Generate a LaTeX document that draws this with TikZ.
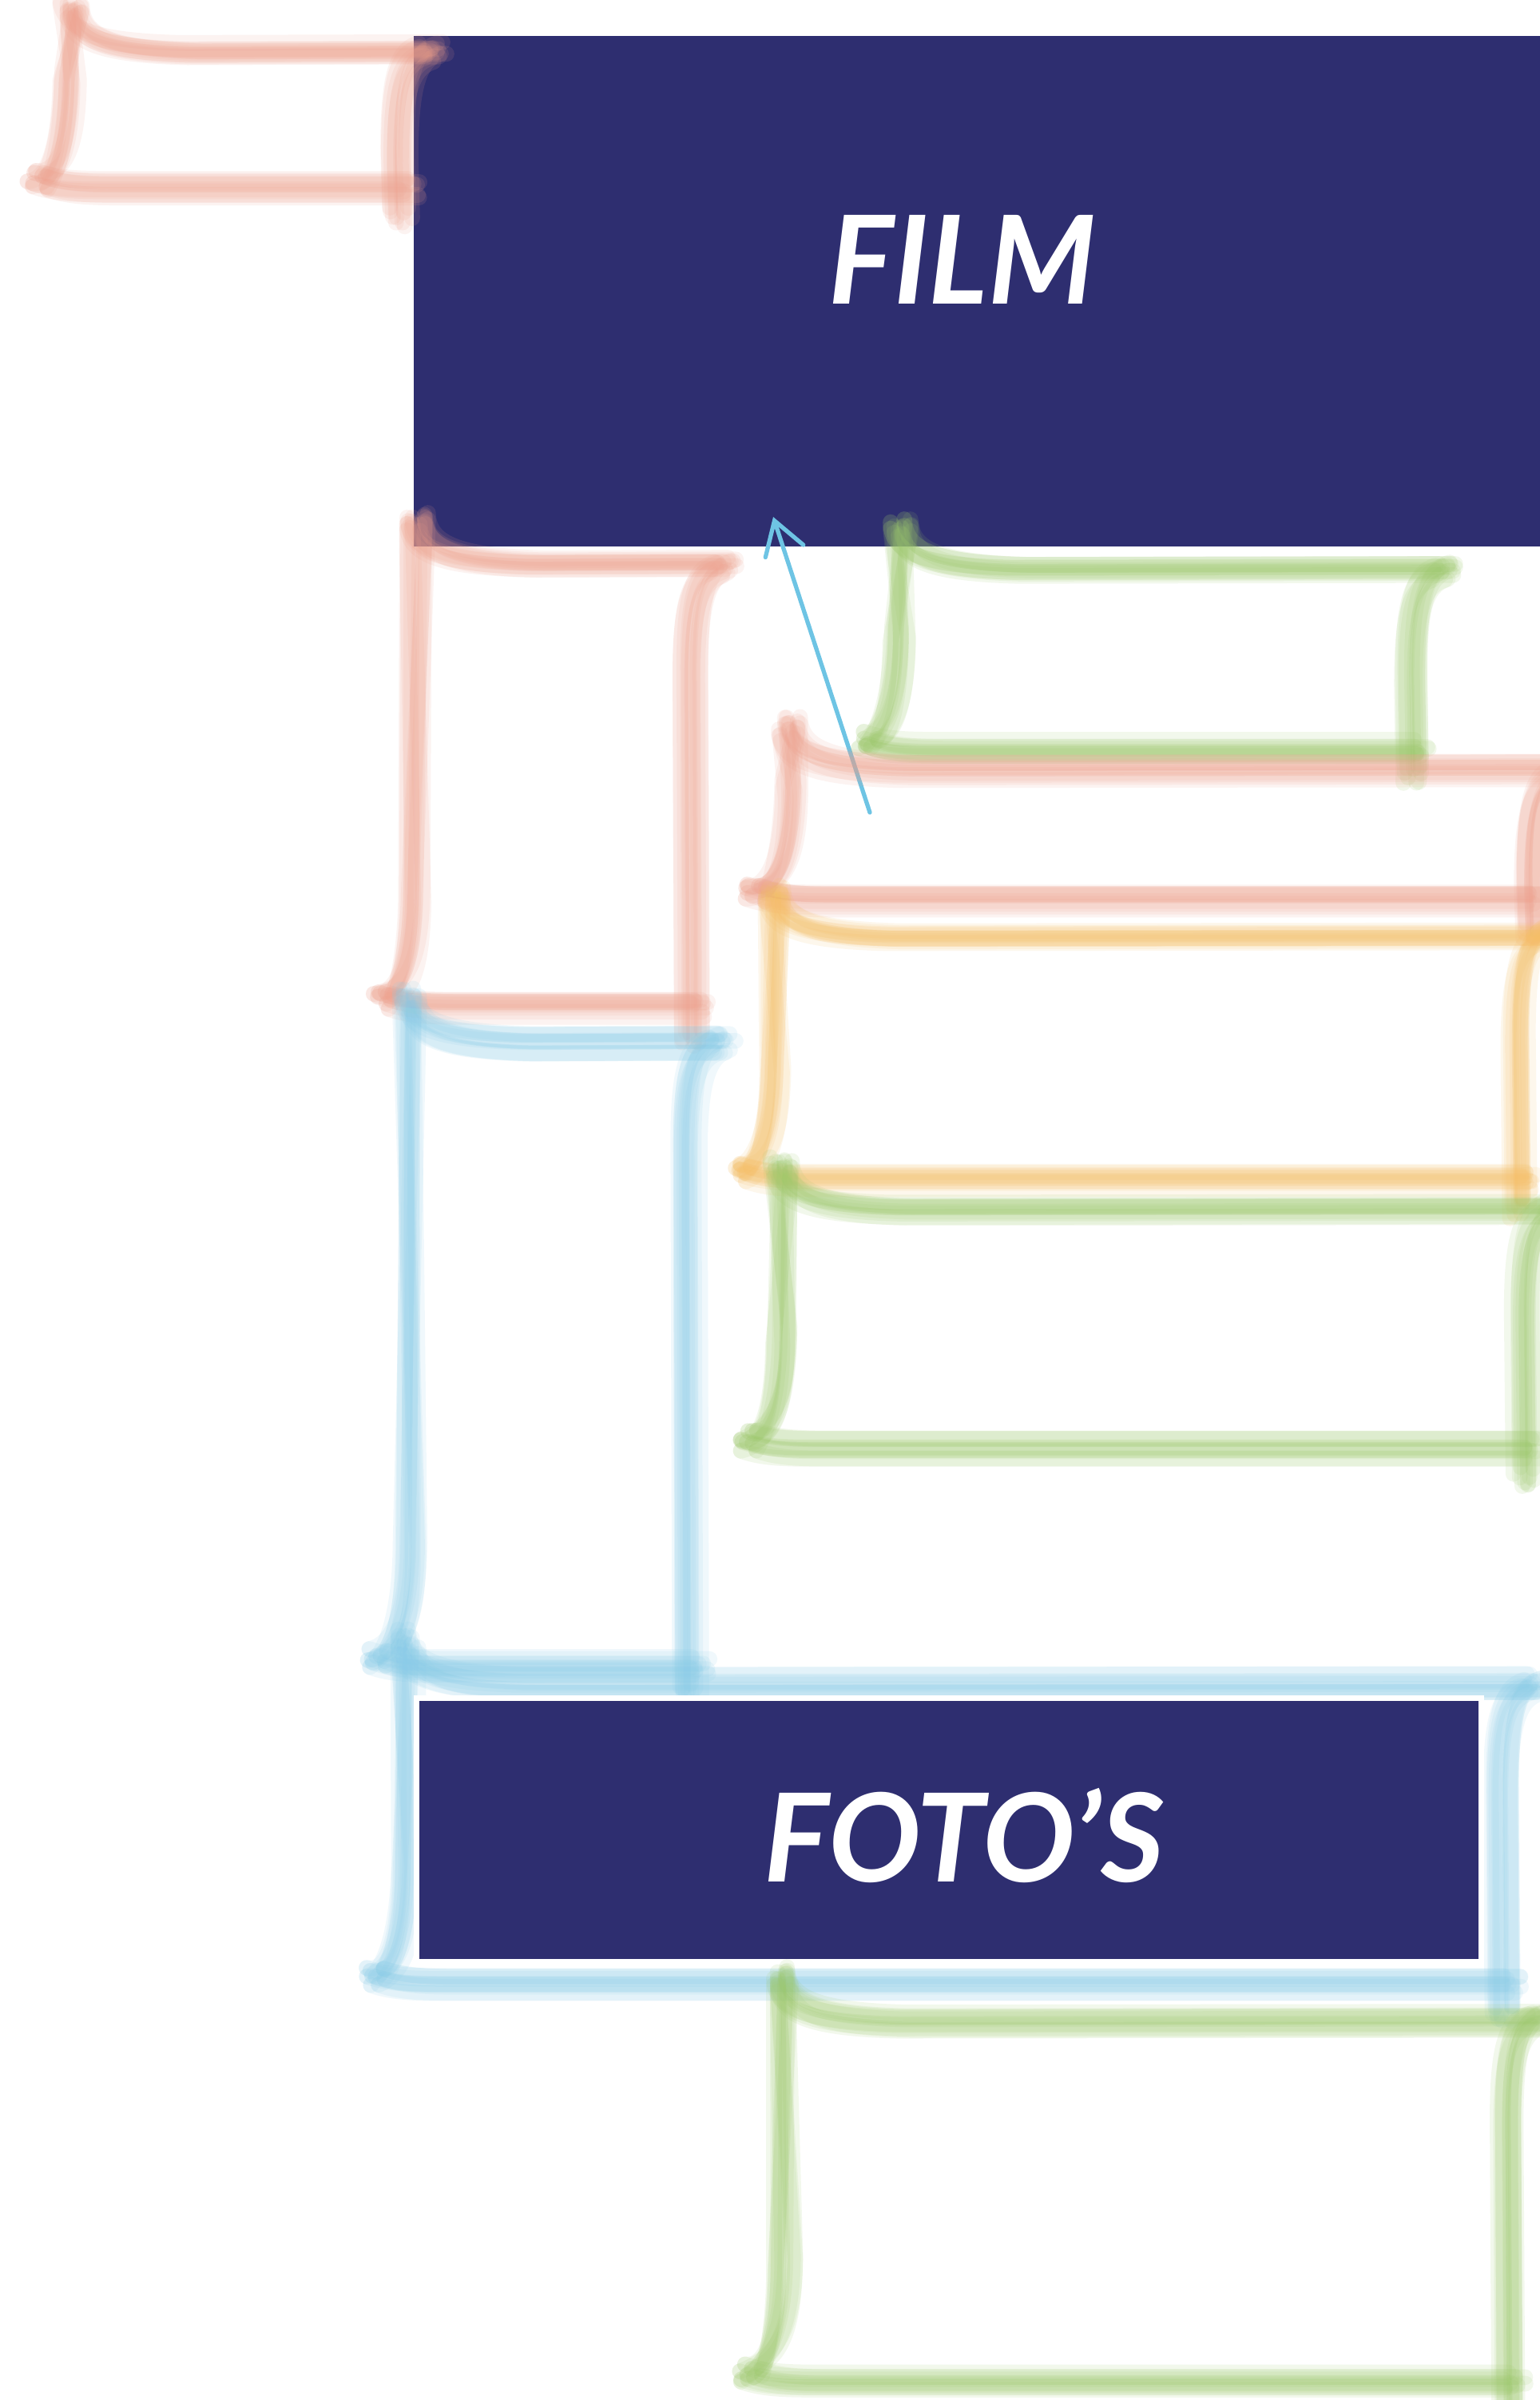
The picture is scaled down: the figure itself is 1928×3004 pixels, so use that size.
\documentclass[tikz,border=0pt]{standalone}
\usepackage{fontspec}
\newfontfamily\lblfont{Lato}
\usetikzlibrary{arrows.meta}
\definecolor{navy}{RGB}{46,46,112}
\definecolor{salmon}{RGB}{238,160,140}
\definecolor{leaf}{RGB}{156,200,106}
\definecolor{sky}{RGB}{136,204,232}
\definecolor{amber}{RGB}{245,190,100}
\definecolor{arrowblue}{RGB}{110,196,228}
\tikzset{
  sk/.style={draw=#1, draw opacity=0.12, line width=5.6pt, line cap=round, line join=round},
  navyrect/.style={fill=navy, draw=none, inner sep=0pt},
  bigword/.style={text=white, inner sep=0pt, font=\lblfont\bfseries\itshape\fontsize{43.7}{50}\selectfont},
  pointer/.style={draw=arrowblue, line width=1.5pt, line cap=round,
    -{Straight Barb[length=11.4pt,width=14.2pt,line cap=round]}}
}
% #1 name, #2 colour, #3 left, #4 top, #5 right, #6 bottom (pixel units, y down)
\newcommand\sketchrect[6]{%
  \coordinate (#1) at ({(#3+#5)/2},{(#4+#6)/2});
  \foreach \k in {1,...,10}{%
    \pgfmathsetmacro\ax{rand*14}\pgfmathsetmacro\ay{rand*13}%
    \pgfmathsetmacro\bx{rand*14}\pgfmathsetmacro\by{rand*13}%
    \pgfmathsetmacro\cx{rand*14}\pgfmathsetmacro\cy{rand*13}%
    \pgfmathsetmacro\ex{rand*14}\pgfmathsetmacro\ey{rand*13}%
    \draw[sk=#2] ({#3+\ax},{#4-50+\ay}) .. controls ({#3+\ax+1},{#4+\ay-15}) and ({#3+\ax+30},{#4+\ay+4}) .. ({#3+\ax+150},{#4+\ay+7}) -- ({#5+45+\bx},{#4+\ay+6});
    \draw[sk=#2] ({#5+38+\bx},{#4+8+\by}) .. controls ({#5+10+\bx},{#4+16+\by}) and ({#5+\bx},{#4+50+\by}) .. ({#5+\bx},{#4+140+\by}) -- ({#5+\bx+2},{#6+38+\by});
    \draw[sk=#2] ({#3-42+\cx},{#6-8+\cy}) .. controls ({#3-25+\cx},{#6-2+\cy}) and ({#3-5+\cx},{#6+2+\cy}) .. ({#3+40+\cx},{#6+2+\cy}) -- ({#5+12+\cx},{#6+2+\cy});
    \draw[sk=#2] ({#3+\ax},{#4-42+\ay}) -- ({#3+\ex},{#6-140+\ey}) .. controls ({#3+\ex-1},{#6-60+\ey}) and ({#3+\ex-15},{#6-15+\ey}) .. ({#3-42+\cx},{#6-8+\cy});
  }%
}
\begin{document}
\begin{tikzpicture}[x=0.01cm,y=-0.01cm]
\pgfmathsetseed{12345}
\useasboundingbox (0,0) rectangle (1928,3004);
\fill[white] (0,0) rectangle (1928,3004);

% FILM block
\node[navyrect, minimum width=14.10cm, minimum height=6.39cm] (film) at (1223,364.5) {};
\node[bigword] (filmword) at (1205,325) {FILM};

% arrow
\coordinate (arrtail) at (1089,1017);
\coordinate (arrtip) at (968,647);
\draw[pointer] (arrtail) -- (arrtip);

% sketched boxes
\sketchrect{bxA}{salmon}{89}{57}{500}{233}
\sketchrect{bxB}{salmon}{522}{703}{863}{1261}
\sketchrect{bxC}{leaf}{1128}{708}{1763}{932}
\sketchrect{bxD}{salmon}{989}{960}{1913}{1127}
\sketchrect{bxE}{amber}{971}{1161}{1900}{1474}
\sketchrect{bxF}{leaf}{978}{1506}{1905}{1811}
\sketchrect{bxG}{sky}{513}{1299}{863}{2082}
\sketchrect{bxH}{sky}{510}{2100}{1879}{2480}

% FOTO'S block
\fill[white] (518,2122) rectangle (1858,2459);
\node[navyrect, minimum width=13.26cm, minimum height=3.23cm] (fotos) at (1188,2290.5) {};
\node[bigword] (fotosword) at (1207,2297) {FOTO’S};

\sketchrect{bxJ}{leaf}{982}{2522}{1884}{2976}
\end{tikzpicture}
\end{document}
